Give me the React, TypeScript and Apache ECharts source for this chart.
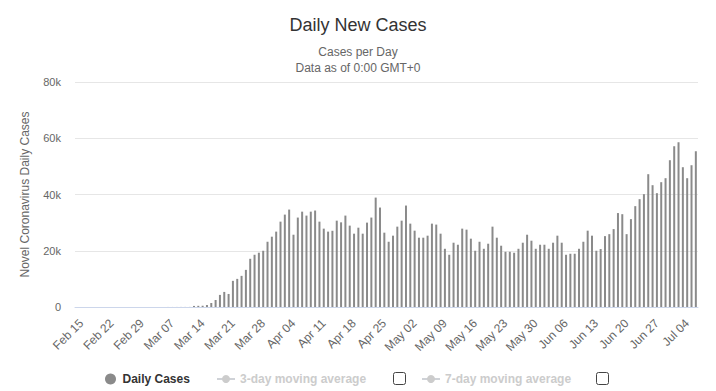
import React, { useEffect, useRef } from "react";
import * as echarts from "echarts";

// Daily new cases (one value per day)
const febCases = [0, 0, 0, 0, 0, 0, 0, 0, 0, 0, 0, 0, 0, 0, 0]; // Feb 15 - Feb 29
const marCases = [
  2, 3, 4, 5, 8, 10, 12, 15, 18, 22, 26, 30, 380, 420, 450, 700, 1430, 2500, 4300, 5360, 4640,
  9300, 10000, 11070, 13200, 17140, 18570, 19300, 20000, 23200, 25000,
];
const aprCases = [
  26800, 30350, 32850, 34640, 25700, 31800, 33900, 32500, 33900, 34300, 30350, 27860, 26800, 27100,
  30700, 30100, 32500, 28930, 26070, 28200, 26070, 30000, 31800, 38900, 35360, 26430, 23200, 25360,
  28570, 30700,
];
const mayCases = [
  36070, 29640, 27140, 24640, 24640, 25360, 29640, 29300, 26070, 20700, 18570, 22860, 22140, 27860,
  27500, 24290, 20000, 23200, 20700, 22500, 28570, 24640, 21790, 19640, 19640, 19290, 20700, 22860,
  25700, 23570, 20700,
];
const junCases = [
  22140, 22140, 20700, 22860, 25360, 22860, 18570, 18930, 18930, 20700, 23200, 27140, 25360, 20000,
  20600, 25200, 25900, 27700, 33400, 33000, 25900, 31240, 35860, 38340, 40120, 47220, 43310, 40470,
  44380, 45800,
];
const julCases = [52190, 57160, 58580, 49700, 45800, 50410, 55380];

// Category spans: [month label, first day, last day]
const monthSpans: [string, number, number][] = [
  ["Feb", 15, 29],
  ["Mar", 1, 31],
  ["Apr", 1, 30],
  ["May", 1, 31],
  ["Jun", 1, 30],
  ["Jul", 1, 7],
];

const yTicks = [0, 20000, 40000, 60000, 80000];

const seriesNames = ["Daily Cases", "3-day moving average", "7-day moving average"];

const titleText = "Daily New Cases";
const subtitleLines = ["Cases per Day", "Data as of 0:00 GMT+0"];
const yAxisTitle = "Novel Coronavirus Daily Cases";

const categories: string[] = [];
monthSpans.forEach(([m, a, b]) => {
  for (let d = a; d <= b; d++) categories.push(`${m} ${String(d).padStart(2, "0")}`);
});
const dailyCases = [...febCases, ...marCases, ...aprCases, ...mayCases, ...junCases, ...julCases];

export default function App() {
  const ref = useRef<HTMLDivElement>(null);
  useEffect(() => {
    if (!ref.current) return;
    const chart = echarts.init(ref.current, undefined, { renderer: "svg" });
    const font = "'Liberation Sans', Arial, Helvetica, sans-serif";
    const legendText = { fontSize: 12, fontWeight: "bold", color: "#333", fontFamily: font };
    chart.setOption({
      animation: false,
      textStyle: { fontFamily: font },
      title: [
        {
          text: titleText,
          left: "center",
          top: 11,
          textStyle: { fontSize: 18, fontWeight: "normal", color: "#333", fontFamily: font },
        },
        {
          text: subtitleLines.join("\n"),
          left: "center",
          top: 39,
          textStyle: {
            fontSize: 12,
            fontWeight: "normal",
            color: "#666",
            lineHeight: 16,
            fontFamily: font,
          },
        },
      ],
      grid: { left: 75, right: 18, top: 82, bottom: 84 },
      xAxis: {
        type: "category",
        data: categories,
        axisLine: { lineStyle: { color: "#ccd6eb" } },
        axisTick: { show: false },
        axisLabel: {
          interval: 6,
          rotate: 45,
          color: "#666",
          fontSize: 12,
          margin: 10,
          verticalAlign: "top",
          fontFamily: font,
        },
      },
      yAxis: {
        type: "value",
        min: yTicks[0],
        max: yTicks[yTicks.length - 1],
        interval: yTicks[1] - yTicks[0],
        axisLabel: {
          color: "#666",
          fontSize: 11,
          margin: 14,
          fontFamily: font,
          formatter: (v: number) => (v === 0 ? "0" : `${v / 1000}k`),
        },
        splitLine: { lineStyle: { color: "#e6e6e6" } },
        axisLine: { show: false },
        axisTick: { show: false },
        name: yAxisTitle,
        nameLocation: "middle",
        nameGap: 44,
        nameTextStyle: { color: "#666", fontSize: 12, fontFamily: font },
      },
      legend: [
        {
          data: [{ name: seriesNames[0], icon: "circle" }],
          left: 100,
          top: 368,
          itemWidth: 14,
          itemHeight: 11,
          itemGap: 0,
          textStyle: legendText,
        },
        {
          data: [seriesNames[1]],
          left: 211,
          top: 368,
          itemWidth: 18,
          itemHeight: 10,
          inactiveColor: "#ccc",
          selected: { [seriesNames[1]]: false },
          textStyle: legendText,
        },
        {
          data: [seriesNames[2]],
          left: 416,
          top: 368,
          itemWidth: 18,
          itemHeight: 10,
          inactiveColor: "#ccc",
          selected: { [seriesNames[2]]: false },
          textStyle: legendText,
        },
      ],
      graphic: [
        {
          type: "rect",
          shape: { x: 393.5, y: 372.5, width: 12, height: 12, r: 2 },
          style: { fill: "#fff", stroke: "#444", lineWidth: 1 },
        },
        {
          type: "rect",
          shape: { x: 596.5, y: 372.5, width: 12, height: 12, r: 2 },
          style: { fill: "#fff", stroke: "#444", lineWidth: 1 },
        },
      ],
      series: [
        {
          type: "bar",
          name: seriesNames[0],
          data: dailyCases,
          barWidth: 2,
          itemStyle: { color: "#8a8a8a" },
        },
        {
          type: "line",
          name: seriesNames[1],
          data: [],
          symbol: "circle",
          itemStyle: { color: "#999" },
        },
        {
          type: "line",
          name: seriesNames[2],
          data: [],
          symbol: "circle",
          itemStyle: { color: "#999" },
        },
      ],
    });
    return () => chart.dispose();
  }, []);
  return (
    <div
      ref={ref}
      style={{ position: "absolute", left: 0, top: 0, width: 716, height: 391, background: "#fff" }}
    />
  );
}
